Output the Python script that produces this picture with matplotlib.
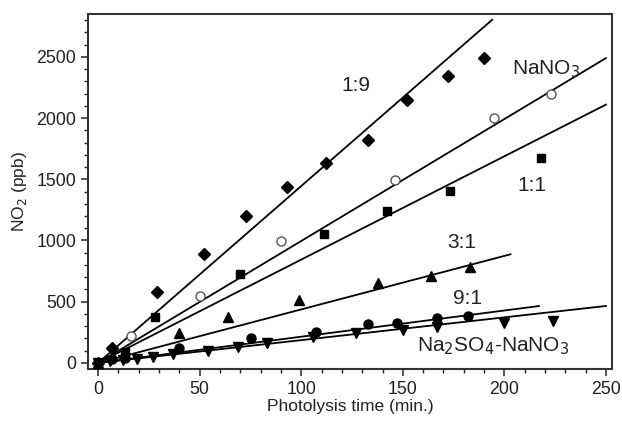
import matplotlib
matplotlib.use("Agg")
import matplotlib.pyplot as plt
import numpy as np
from matplotlib.ticker import MultipleLocator

plt.rcParams['font.family'] = ['Liberation Sans', 'DejaVu Sans']

# ---- data ----
t_19 = [0, 7, 29, 52, 73, 93, 112, 133, 152, 172, 190]
y_19 = [0, 120, 577, 889, 1199, 1435, 1631, 1824, 2150, 2346, 2490]

t_nano3 = [0, 16, 50, 90, 146, 195, 223]
y_nano3 = [0, 218, 544, 992, 1497, 2004, 2199]

t_11 = [0, 13, 28, 70, 111, 142, 173, 218]
y_11 = [0, 92, 378, 726, 1052, 1240, 1408, 1675]

t_31 = [0, 40, 64, 99, 138, 164, 183]
y_31 = [0, 242, 378, 516, 650, 710, 786]

t_91 = [0, 7, 13, 40, 75, 107, 133, 147, 167, 182]
y_91 = [0, 30, 40, 125, 207, 250, 318, 329, 364, 386]

t_mix = [0, 6, 12, 19, 27, 37, 54, 69, 83, 106, 127, 150, 167, 200, 224]
y_mix = [0, 15, 20, 33, 52, 73, 101, 133, 160, 210, 241, 269, 296, 323, 343]

# fitted line slopes (ppb/min) and end times
fit_slopes = {'1:9': 14.45, 'NaNO3': 9.96, '1:1': 8.44, '3:1': 4.37, '9:1': 2.14, 'mix': 1.86}
fit_ends = {'1:9': 194, 'NaNO3': 250, '1:1': 250, '3:1': 203, '9:1': 217, 'mix': 250}

fig = plt.figure(figsize=(6.22, 4.21), dpi=100)
ax = fig.add_axes([0.1415, 0.1235, 0.8425, 0.8432])

series = [
    ('1:9', t_19, y_19, dict(marker='D', ms=6, mfc='black', mec='black')),
    ('NaNO3', t_nano3, y_nano3, dict(marker='o', ms=6.5, mfc='white', mec='#555555', mew=1.0)),
    ('1:1', t_11, y_11, dict(marker='s', ms=5.5, mfc='black', mec='black')),
    ('3:1', t_31, y_31, dict(marker='^', ms=6.5, mfc='black', mec='black')),
    ('9:1', t_91, y_91, dict(marker='o', ms=6.5, mfc='black', mec='black')),
    ('mix', t_mix, y_mix, dict(marker='v', ms=6.5, mfc='black', mec='black')),
]

for key, t, y, st in series:
    xs = np.array([0, fit_ends[key]])
    ax.plot(xs, fit_slopes[key] * xs, color='black', lw=1.3, zorder=2)
    ax.plot(t, y, linestyle='none', zorder=3, **st)

txt = dict(fontsize=15, color='#222222')
ax.text(127, 2270, '1:9', ha='center', va='center', **txt)
ax.text(203.5, 2400, r'NaNO$_3$', ha='left', va='center', **txt)
ax.text(213.5, 1452, '1:1', ha='center', va='center', **txt)
ax.text(179, 980, '3:1', ha='center', va='center', **txt)
ax.text(182, 530, '9:1', ha='center', va='center', **txt)
ax.text(157, 133, r'Na$_2$SO$_4$-NaNO$_3$', ha='left', va='center', **txt)

ax.set_xlim(-5, 253)
ax.set_ylim(-50, 2850)
ax.xaxis.set_major_locator(MultipleLocator(50))
ax.xaxis.set_minor_locator(MultipleLocator(10))
ax.yaxis.set_major_locator(MultipleLocator(500))
ax.yaxis.set_minor_locator(MultipleLocator(100))
ax.tick_params(which='major', direction='out', length=5, width=1.1, labelsize=12.8, colors='#222222')
ax.tick_params(which='minor', direction='out', length=3, width=1.0, colors='#222222')
for s in ax.spines.values():
    s.set_linewidth(1.5)
    s.set_color('#333333')

ax.set_xlabel('Photolysis time (min.)', fontsize=12.5, color='#222222', labelpad=1)
ax.set_ylabel(r'NO$_2$ (ppb)', fontsize=12.5, color='#222222', labelpad=5)

fig.savefig('out.png', dpi=100)
